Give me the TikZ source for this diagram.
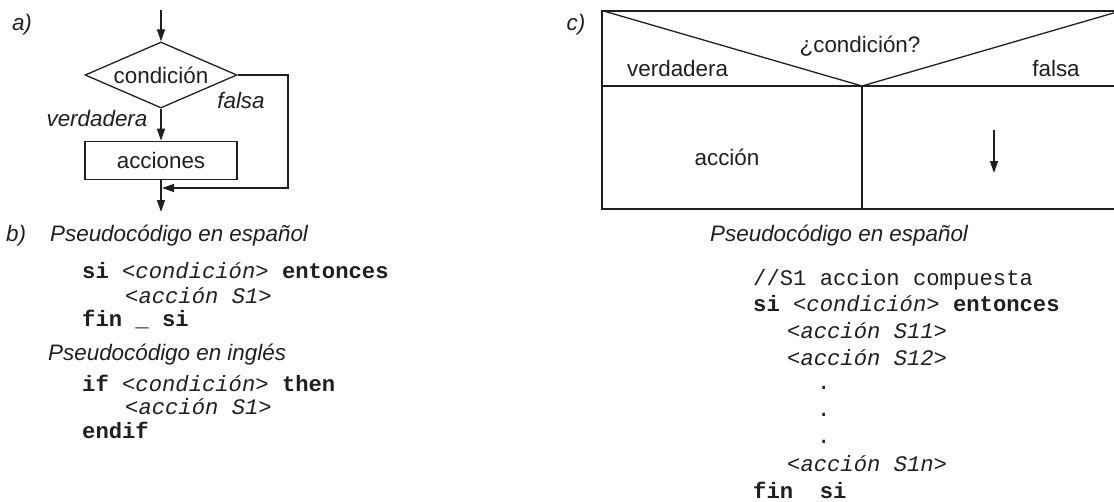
\documentclass[tikz,border=0pt]{standalone}
\usepackage{fontspec}
\setmainfont{Liberation Sans}
\setmonofont{Liberation Mono}
\usetikzlibrary{arrows.meta,shapes.geometric,positioning}

\begin{document}
\begin{tikzpicture} [
    x=1pt, y=-1pt,
    every node/.style={text=black!88, font=\fontsize{22.4}{26}\selectfont},
    cond/.style={diamond, aspect=2.3, draw=black!88, line width=1.3pt, minimum width=152pt, minimum height=66pt, inner sep=0pt},
    actbox/.style={rectangle, draw=black!88, line width=1.3pt, minimum width=152pt, minimum height=38pt, inner sep=0pt},
    lbl/.style={font=\fontsize{22.4}{26}\selectfont\itshape},
    head/.style={anchor=base west, inner sep=0pt, font=\fontsize{22.4}{26}\selectfont\itshape},
    code/.style={anchor=base west, inner sep=0pt, font=\fontsize{22.2}{26}\selectfont\ttfamily},
    line/.style={draw=black!88, line width=1.3pt},
    >={Triangle[length=12pt,width=8pt]}
    ]
    \useasboundingbox (0,0) rectangle (1114,501);
    %Panel a
    \node[lbl]       (la)     at (22,25)                      {a)};
    \coordinate      (top)    at (161,10);
    \node[cond]      (cond)   at (161,75)                     {condición};
    \node[actbox]    (acc)    [below=32pt of cond]            {acciones};
    \coordinate      (turn)   at (288,188);
    \coordinate      (back)   at (162,188);
    \coordinate      (out)    at (161,212);
    \node[lbl]       (falsa)  at (241,100)                    {falsa};
    \node[lbl]       (verd)   at (97,118)                     {verdadera};
    \draw[line,->] (top) -- (cond.north);
    \draw[line,->] (cond.south) -- (acc.north);
    \draw[line,->] (cond.east) -| (turn) -- (back);
    \draw[line,->] (acc.south) -- (out);
    %Panel b
    \node[head]      (lb)     at (6,241)                      {b)};
    \node[head]      (hb1)    at (50,241)                     {Pseudocódigo en español};
    \node[code]      (b1)     at (82,278)                     {\textbf{si} \textit{<condición>} \textbf{entonces}};
    \node[code]      (b2)     at (125,303)                    {\textit{<acción S1>}};
    \node[code]      (b3)     at (82,326)                     {\textbf{fin \_ si}};
    \node[head]      (hb2)    at (48,360)                     {Pseudocódigo en inglés};
    \node[code]      (b4)     at (82,391)                     {\textbf{if} \textit{<condición>} \textbf{then}};
    \node[code]      (b5)     at (125,414)                    {\textit{<acción S1>}};
    \node[code]      (b6)     at (82,438)                     {\textbf{endif}};
    %Panel c
    \node[lbl]       (lc)     at (576,25)                     {c)};
    \begin{scope}
        \clip (0,0) rectangle (1114,501);
        \node[line, minimum width=520pt, minimum height=198pt, inner sep=0pt] (nsbox) at (862,110) {};
        \coordinate (vtip) at (862,86);
        \draw[line] (nsbox.north west) -- (vtip) -- (nsbox.north east);
        \draw[line] (nsbox.west |- vtip) -- (nsbox.east |- vtip);
        \draw[line] (vtip) -- (nsbox.south -| vtip);
    \end{scope}
    \node            (qc)     at (860,46)                     {¿condición?};
    \node[anchor=west, inner sep=0pt] (vc) at (627,68)        {verdadera};
    \node            (fc)     at (1056,68)                    {falsa};
    \node            (ac)     at (727,157)                    {acción};
    \coordinate      (fa)     at (994,130);
    \coordinate      (fb)     at (994,173);
    \draw[line,->] (fa) -- (fb);
    \node[head]      (hc)     at (710,241)                    {Pseudocódigo en español};
    \node[code]      (c1)     at (753,285)                    {//S1 accion compuesta};
    \node[code]      (c2)     at (753,311)                    {\textbf{si} \textit{<condición>} \textbf{entonces}};
    \node[code]      (c3)     at (787,338)                    {\textit{<acción S11>}};
    \node[code]      (c4)     at (787,365)                    {\textit{<acción S12>}};
    \node[code]      (d1)     at (817,389)                    {.};
    \node[code]      (d2)     at (817,416)                    {.};
    \node[code]      (d3)     at (817,443)                    {.};
    \node[code]      (c5)     at (787,471)                    {\textit{<acción S1n>}};
    \node[code]      (c6)     at (753,498)                    {\textbf{fin\ \ si}};
\end{tikzpicture}
\end{document}
